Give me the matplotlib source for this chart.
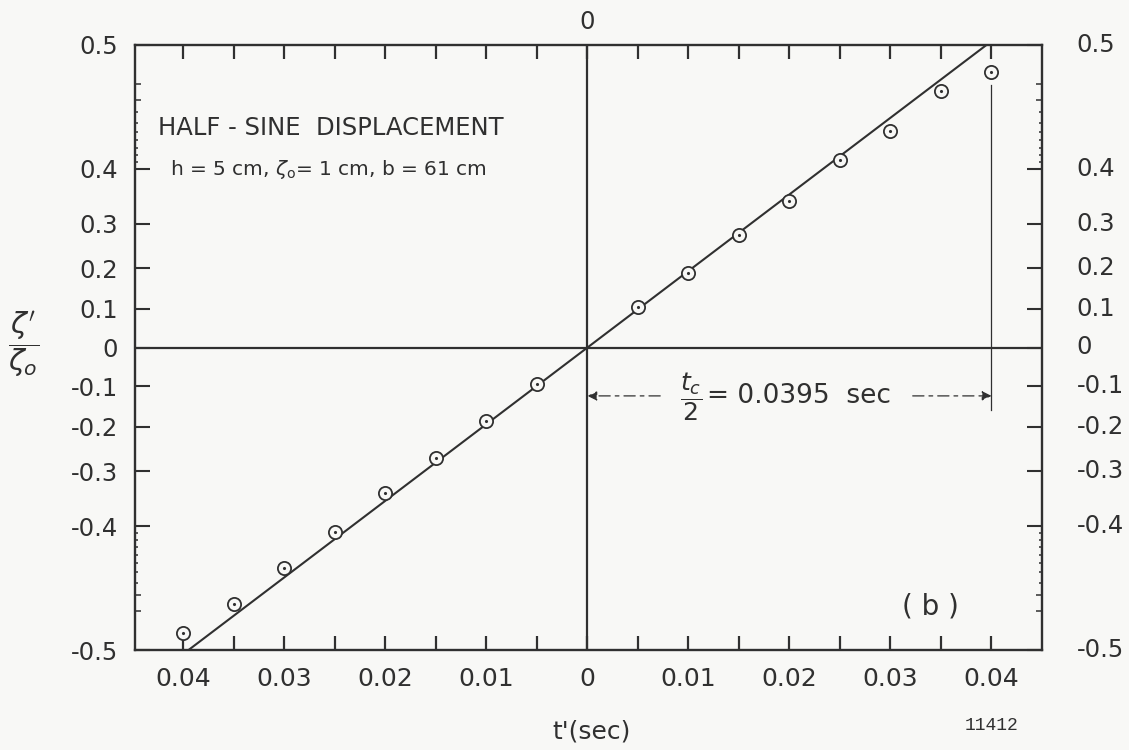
import numpy as np
import matplotlib
matplotlib.use("Agg")
import matplotlib.pyplot as plt
from matplotlib.transforms import blended_transform_factory

plt.rcParams['font.family'] = ['DejaVu Sans']
plt.rcParams['mathtext.fontset'] = 'dejavusans'

INK = '#303030'
PAPER = '#f8f8f6'

# measured points (t' in sec, zeta'/zeta0)
t_left = [-0.04, -0.035, -0.03, -0.025, -0.02, -0.015, -0.01, -0.005]
z_left = [-0.498, -0.486, -0.455, -0.409, -0.343, -0.271, -0.186, -0.094]
t_right = [0.005, 0.01, 0.015, 0.02, 0.025, 0.03, 0.035, 0.04]
z_right = [0.104, 0.189, 0.276, 0.345, 0.413, 0.451, 0.486, 0.495]

# half-sine theory: straight on the arcsin scale
t_theory = [-0.0395, 0.0, 0.0395]
z_theory = [-0.5, 0.0, 0.5]

x_major = [-0.04, -0.03, -0.02, -0.01, 0.0, 0.01, 0.02, 0.03, 0.04]
x_major_labels = ['0.04', '0.03', '0.02', '0.01', '0', '0.01', '0.02', '0.03', '0.04']
x_minor = [-0.035, -0.025, -0.015, -0.005, 0.005, 0.015, 0.025, 0.035]

y_major = [-0.5, -0.4, -0.3, -0.2, -0.1, 0.0, 0.1, 0.2, 0.3, 0.4, 0.5]
y_major_labels = ['-0.5', '-0.4', '-0.3', '-0.2', '-0.1', '0',
                  '0.1', '0.2', '0.3', '0.4', '0.5']
y_minor = [-0.49, -0.48, -0.47, -0.46, -0.45, -0.44, -0.43, -0.42, -0.41,
           0.41, 0.42, 0.43, 0.44, 0.45, 0.46, 0.47, 0.48, 0.49]


def fwd(v):
    return np.arcsin(np.clip(2 * np.asarray(v, dtype=float), -1, 1))


def inv(u):
    return np.sin(np.asarray(u, dtype=float)) / 2


fig = plt.figure(figsize=(11.29, 7.5), dpi=100, facecolor=PAPER)
ax = fig.add_axes([135 / 1129, 100 / 750, 907 / 1129, 605 / 750])
ax.set_facecolor(PAPER)

ax.set_yscale('function', functions=(fwd, inv))
ax.set_ylim(-0.5, 0.5)
ax.set_xlim(-0.0448, 0.0450)

for s in ax.spines.values():
    s.set_color(INK)
    s.set_linewidth(1.7)

# zero lines
ax.axhline(0, color=INK, lw=1.6, zorder=2)
ax.axvline(0, color=INK, lw=1.6, zorder=2)

# theory line and data
ax.plot(t_theory, z_theory, color=INK, lw=1.5, zorder=3)
for tt, zz in [(t_left, z_left), (t_right, z_right)]:
    ax.plot(tt, zz, 'o', ms=9.5, mfc=PAPER, mec=INK, mew=1.3, zorder=4)
    ax.plot(tt, zz, '.', ms=2.5, color=INK, zorder=5)

tr = blended_transform_factory(ax.transData, ax.transAxes)

# x ticks
ax.set_xticks(x_major, x_major_labels)
ax.set_xticks(x_minor, minor=True)
ax.xaxis.set_ticks_position('both')
ax.tick_params(axis='x', which='both', direction='in', length=10, width=1.6,
               color=INK, labelcolor=INK, labelsize=18, pad=12)

# y ticks on both sides, labels on left
ax.set_yticks(y_major, y_major_labels)
ax.set_yticks(y_minor, minor=True)
ax.yaxis.set_ticks_position('both')
ax.tick_params(axis='y', which='major', direction='in', length=11, width=1.5,
               color=INK, labelcolor=INK, labelsize=17.5, pad=12)
ax.tick_params(axis='y', which='minor', direction='in', length=2.3, width=1.1,
               color=INK)

# longer minor ticks at +-0.48, +-0.49
for tk, loc in zip(ax.yaxis.get_minor_ticks(len(y_minor)), y_minor):
    if abs(abs(loc) - 0.485) < 0.01:
        tk.tick1line.set_markersize(4.0)
        tk.tick2line.set_markersize(4.0)

# right-hand labels
tr_y = blended_transform_factory(ax.transAxes, ax.transData)
for v, lab in zip(y_major, y_major_labels):
    ax.text(1.038, v, lab, transform=tr_y, ha='left', va='center',
            fontsize=17.5, color=INK, clip_on=False)

# top zero label
ax.text(0, 1.018, '0', transform=tr, ha='center', va='bottom',
        fontsize=17.5, color=INK)

# t_c / 2 marker
ax.plot([0.04, 0.04], [0.934, 0.397], transform=tr, color=INK, lw=0.9)
arrow_kw = dict(arrowstyle='-|>', color=INK, lw=0.9, linestyle=(0, (9, 4, 3, 4)),
                mutation_scale=14, shrinkA=0, shrinkB=0)
ax.annotate('', xy=(0.0, 0.42), xytext=(0.0072, 0.42), xycoords=tr,
            textcoords=tr, arrowprops=arrow_kw)
ax.annotate('', xy=(0.04, 0.42), xytext=(0.0322, 0.42), xycoords=tr,
            textcoords=tr, arrowprops=arrow_kw)
ax.text(0.0103, 0.418, r'$\dfrac{t_c}{2}$', transform=tr, ha='center',
        va='center', fontsize=18, color=INK)
ax.text(0.0118, 0.42, '= 0.0395  sec', transform=tr, ha='left',
        va='center', fontsize=19, color=INK)

# labels in plot
ax.text(0.0255, 0.863, 'HALF - SINE  DISPLACEMENT', transform=ax.transAxes,
        ha='left', va='center', fontsize=17.5, color=INK)
ax.text(0.039, 0.795, r'h = 5 cm, $\zeta_\mathregular{o}$= 1 cm, b = 61 cm',
        transform=ax.transAxes, ha='left', va='center', fontsize=14.5,
        color=INK)
ax.text(0.877, 0.072, '( b )', transform=ax.transAxes, ha='center',
        va='center', fontsize=20, color=INK)

# axis titles
fig.text(24 / 1129, 1 - 345 / 750, r"$\dfrac{\zeta'}{\zeta_o}$", ha='center',
         va='center', fontsize=21, color=INK)
fig.text(592 / 1129, 1 - 732 / 750, "t'(sec)", ha='center', va='center',
         fontsize=18, color=INK)
fig.text(1018 / 1129, 1 - 726 / 750, '11412', ha='right', va='center',
         fontsize=13, family='Liberation Mono', color=INK)

fig.savefig('out.png', dpi=100, facecolor=PAPER)
